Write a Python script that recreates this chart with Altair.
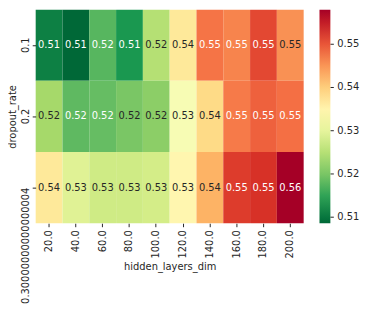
import altair as alt
import pandas as pd

hidden_dims = ["20.0", "40.0", "60.0", "80.0", "100.0", "120.0", "140.0", "160.0", "180.0", "200.0"]
dropouts = ["0.1", "0.2", "0.30000000000000004"]

row_01 = [0.5111, 0.5086, 0.5175, 0.5135, 0.5249, 0.5368, 0.5476, 0.5464, 0.5511, 0.5454]
row_02 = [0.5234, 0.5180, 0.5185, 0.5200, 0.5214, 0.5323, 0.5387, 0.5471, 0.5491, 0.5480]
row_03 = [0.5368, 0.5293, 0.5274, 0.5274, 0.5279, 0.5348, 0.5427, 0.5521, 0.5530, 0.5580]
rows = [row_01, row_02, row_03]

cbar_ticks = [0.51, 0.52, 0.53, 0.54, 0.55]

records = []
for d, vals in zip(dropouts, rows):
    for h, v in zip(hidden_dims, vals):
        records.append({"dropout_rate": d, "hidden_layers_dim": h, "value": v})
df = pd.DataFrame(records)
ticks_df = pd.DataFrame({"tick": cbar_ticks})

vmin = float(df["value"].min())
vmax = float(df["value"].max())
cmap = ["#006837", "#1a9850", "#66bd63", "#a6d96a", "#d9ef8b", "#ffffbf",
        "#fee08b", "#fdae61", "#f46d43", "#d73027", "#a50026"]
cdomain = [vmin + i * (vmax - vmin) / 10 for i in range(11)]

FONT = "DejaVu Sans"
INK = "#262626"

x_enc = alt.X(
    "hidden_layers_dim:O",
    sort=hidden_dims,
    scale=alt.Scale(paddingInner=0, paddingOuter=0),
    axis=alt.Axis(
        title="hidden_layers_dim",
        labelAngle=270,
        labelAlign="right",
        labelBaseline="middle",
        labelPadding=3,
        titlePadding=4,
    ),
)

rect = alt.Chart(df).mark_rect().encode(
    x=x_enc,
    y=alt.Y(
        "dropout_rate:O",
        sort=dropouts,
        scale=alt.Scale(paddingInner=0, paddingOuter=0),
        axis=alt.Axis(
            title="dropout_rate",
            labelAngle=270,
            labelAlign=alt.condition("length(datum.label) > 5", alt.value("right"), alt.value("center")),
            labelBaseline="bottom",
            labelPadding=2,
            titleAngle=270,
            titleX=-23,
            titleY=108,
            titleAlign="center",
            titleBaseline="middle",
        ),
    ),
    color=alt.Color(
        "value:Q",
        scale=alt.Scale(domain=cdomain, range=cmap, interpolate="rgb"),
        legend=alt.Legend(
            title=None,
            orient="none",
            direction="vertical",
            legendX=287,
            legendY=0,
            gradientLength=216,
            gradientThickness=11,
            gradientStrokeWidth=0,
            values=cbar_ticks,
            format=".2f",
            labelOffset=7,
            labelFont=FONT,
            labelFontSize=10,
            labelColor=INK,
            padding=0,
        ),
    ),
)

text = alt.Chart(df).mark_text(font=FONT, fontSize=10).encode(
    x=x_enc,
    y=alt.Y(
        "dropout_rate:O",
        sort=dropouts,
        scale=alt.Scale(paddingInner=0, paddingOuter=0),
        axis=None,
    ),
    text=alt.Text("value:Q", format=".2f"),
    color=alt.condition(
        "datum.value < 0.5195 || datum.value > 0.546",
        alt.value("white"),
        alt.value(INK),
    ),
)

cbar_tick_marks = alt.Chart(ticks_df).mark_rule(color=INK, strokeWidth=1).encode(
    y=alt.Y("tick:Q", scale=alt.Scale(domain=[vmin, vmax], nice=False, zero=False), axis=None),
    x=alt.value(298),
    x2=alt.value(301.5),
)

chart = (
    alt.layer(rect, text, cbar_tick_marks)
    .resolve_scale(y="independent")
    .properties(
        width=271,
        height=216,
        autosize="none",
        padding={"left": 28, "top": 0, "right": 60, "bottom": 82},
        background="white",
    )
    .configure_view(stroke="transparent")
    .configure_axis(
        labelFont=FONT,
        titleFont=FONT,
        labelFontSize=10,
        titleFontSize=10,
        labelColor=INK,
        titleColor=INK,
        titleFontWeight="normal",
        tickColor=INK,
        tickSize=3.5,
        domain=False,
        grid=False,
    )
)

chart.save("out.html", embed_options={"renderer": "svg", "actions": False})
